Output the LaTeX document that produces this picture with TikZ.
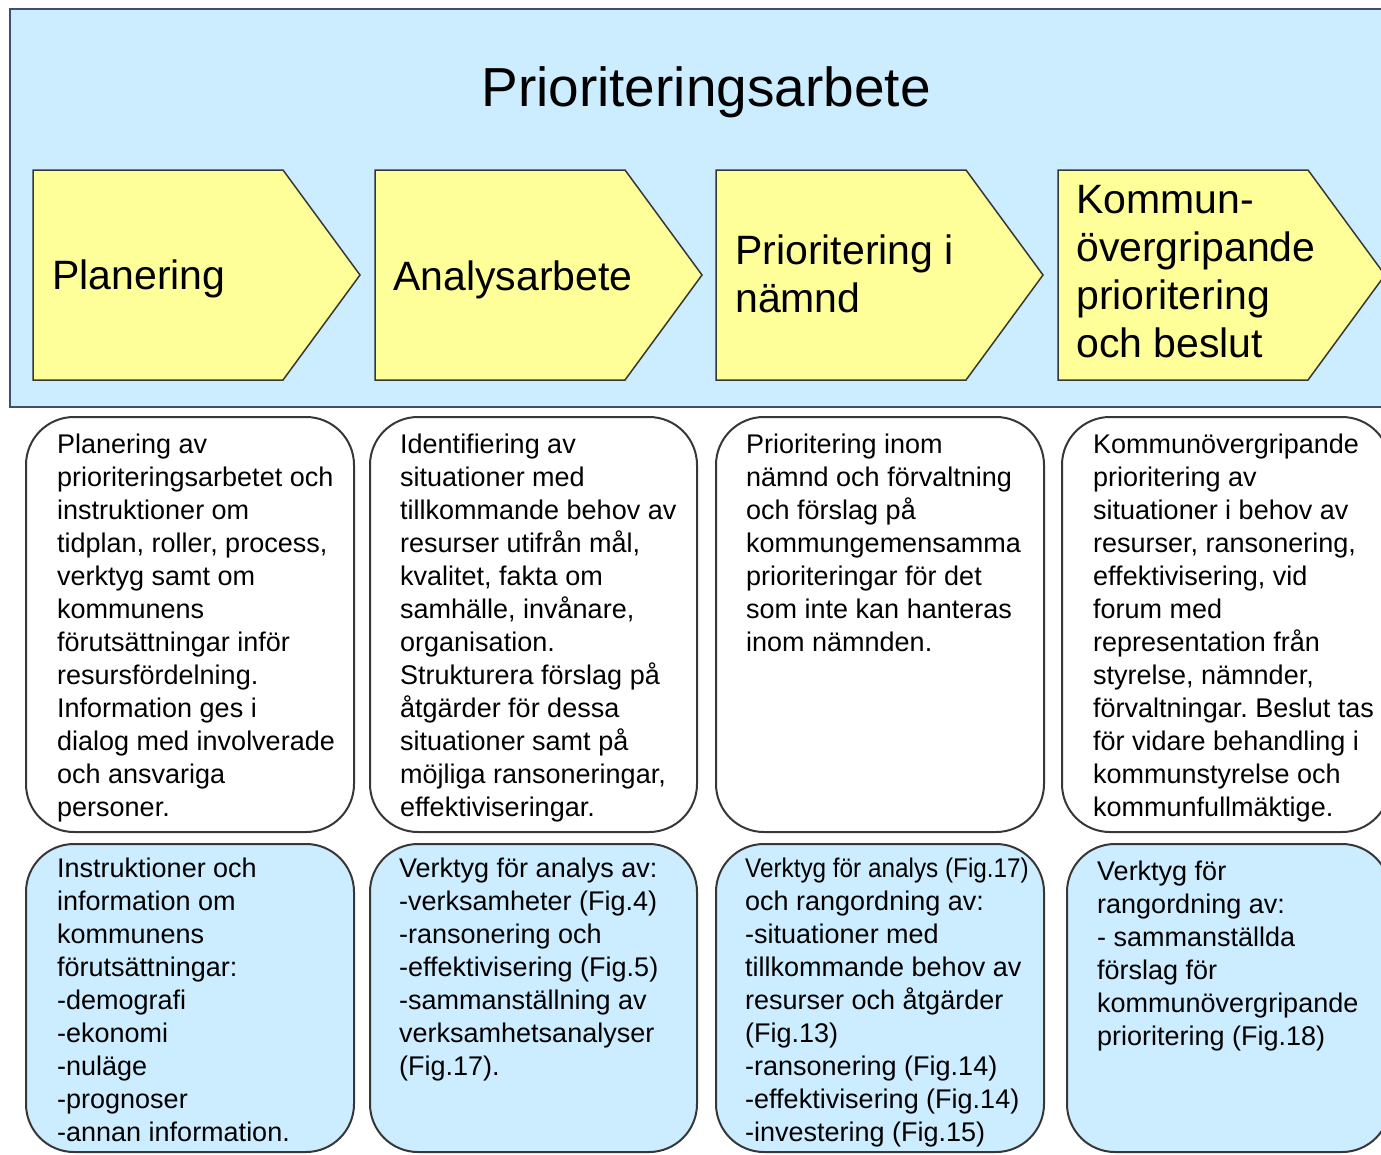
\documentclass[tikz,border=0pt]{standalone}
\usepackage{fontspec}
\setmainfont{Liberation Sans}
\frenchspacing
\definecolor{paleblue}{RGB}{204,236,255}
\definecolor{phaseyellow}{RGB}{255,255,153}
\definecolor{framenavy}{RGB}{60,80,115}
\definecolor{boxgray}{RGB}{55,55,55}
\tikzset{
  phase/.style={draw=boxgray,fill=phaseyellow,line width=1.5pt},
  phasetext/.style={anchor=north west,inner sep=0pt,align=left,font=\fontsize{41}{48}\selectfont},
  descbox/.style={draw=boxgray,line width=2pt,rounded corners=48pt,inner sep=0pt},
  toolbox/.style={descbox,fill=paleblue},
  boxtext/.style={anchor=north west,inner sep=0pt,align=left,font=\fontsize{27}{33}\selectfont},
}
\begin{document}
\begin{tikzpicture}[x=1pt,y=-1pt]
\useasboundingbox (0,0) rectangle (1381,1154);
\clip (0,0) rectangle (1381,1154);
% banner with the four phases
\draw[fill=paleblue,draw=framenavy,line width=2pt] (10,9) rectangle (1420,407);
\node (title) at (706,106) [anchor=base,font=\fontsize{55}{60}\selectfont] {Prioriteringsarbete};
\foreach \x in {33,375,716,1058}
  \draw[phase] (\x,170) -- ++(250,0) -- ++(77,105) -- ++(-77,105) -- ++(-250,0) -- cycle;
\node (planering) at (52,260) [phasetext] {Planering};
\node (analys) at (393,261) [phasetext] {Analysarbete};
\node (namnd) at (735,235) [phasetext] {Prioritering i\\nämnd};
\node (kommun) at (1076,185) [phasetext] {Kommun-\\övergripande\\prioritering\\och beslut};
% description boxes
\node (planbox) at (190,624.5) [descbox,minimum width=328pt,minimum height=415pt] {};
\node (analysbox) at (533.5,624.5) [descbox,minimum width=327pt,minimum height=415pt] {};
\node (namndbox) at (880,624.5) [descbox,minimum width=328pt,minimum height=415pt] {};
\node (kommunbox) at (1226,624.5) [descbox,minimum width=328pt,minimum height=415pt] {};
\node (plantext) at (57,433.5) [boxtext] {Planering av\\
prioriteringsarbetet och\\
instruktioner om\\
tidplan, roller, process,\\
verktyg samt om\\
kommunens\\
förutsättningar inför\\
resursfördelning.\\
Information ges i\\
dialog med involverade\\
och ansvariga\\
personer.};
\node (analystext) at (400,433.5) [boxtext] {Identifiering av\\
situationer med\\
tillkommande behov av\\
resurser utifrån mål,\\
kvalitet, fakta om\\
samhälle, invånare,\\
organisation.\\
Strukturera förslag på\\
åtgärder för dessa\\
situationer samt på\\
möjliga ransoneringar,\\
effektiviseringar.};
\node (namndtext) at (746,433.5) [boxtext] {Prioritering inom\\
nämnd och förvaltning\\
och förslag på\\
kommungemensamma\\
prioriteringar för det\\
som inte kan hanteras\\
inom nämnden.};
\node (kommuntext) at (1093,433.5) [boxtext] {Kommunövergripande\\
prioritering av\\
situationer i behov av\\
resurser, ransonering,\\
effektivisering, vid\\
forum med\\
representation från\\
styrelse, nämnder,\\
förvaltningar. Beslut tas\\
för vidare behandling i\\
kommunstyrelse och\\
kommunfullmäktige.};
% tool boxes
\node (planverktyg) at (190,998) [toolbox,minimum width=328pt,minimum height=308pt] {};
\node (analysverktyg) at (533.5,998) [toolbox,minimum width=327pt,minimum height=308pt] {};
\node (namndverktyg) at (880,998) [toolbox,minimum width=328pt,minimum height=308pt] {};
\node (kommunverktyg) at (1228.5,998) [toolbox,minimum width=323pt,minimum height=308pt] {};
\node (planverktygtext) at (57,857.5) [boxtext] {Instruktioner och\\
information om\\
kommunens\\
förutsättningar:\\
-demografi\\
-ekonomi\\
-nuläge\\
-prognoser\\
-annan information.};
\node (analysverktygtext) at (399,857.5) [boxtext] {Verktyg för analys av:\\
-verksamheter (Fig.4)\\
-ransonering och\\
-effektivisering (Fig.5)\\
-sammanställning av\\
verksamhetsanalyser\\
(Fig.17).};
\node (namndverktygtext) at (745,857.5) [boxtext] {\scalebox{0.9}[1]{Verktyg för analys (Fig.17)}\\
och rangordning av:\\
-situationer med\\
tillkommande behov av\\
resurser och åtgärder\\
(Fig.13)\\
-ransonering (Fig.14)\\
-effektivisering (Fig.14)\\
-investering (Fig.15)};
\node (kommunverktygtext) at (1097,860.5) [boxtext] {Verktyg för\\
rangordning av:\\
- sammanställda\\
förslag för\\
kommunövergripande\\
prioritering (Fig.18)};
\end{tikzpicture}
\end{document}
